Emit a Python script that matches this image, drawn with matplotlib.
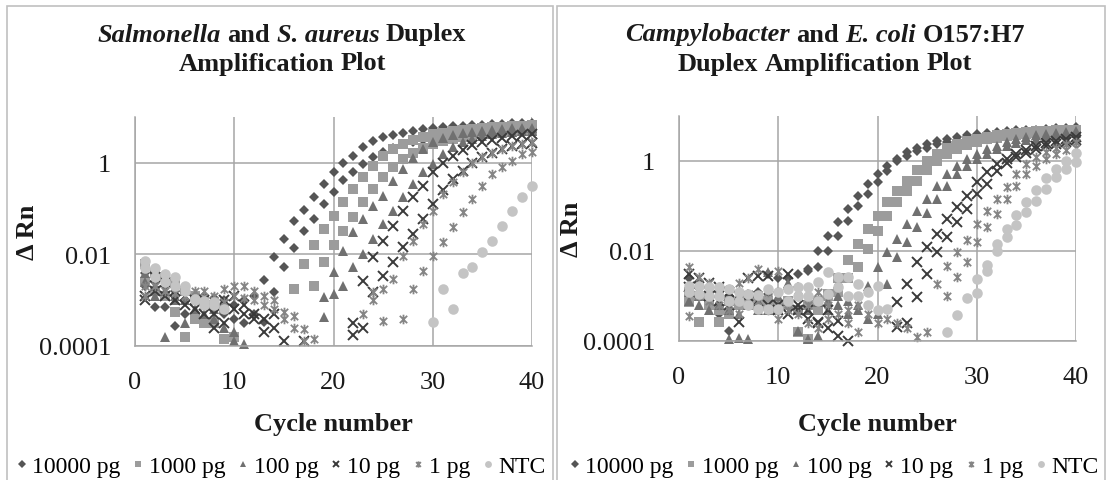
import numpy as np
import matplotlib
matplotlib.use('Agg')
import matplotlib.pyplot as plt
from matplotlib.path import Path
from matplotlib.patches import Rectangle

N = np.nan
cycles = np.arange(1, 41)
labels = ['10000 pg', '1000 pg', '100 pg', '10 pg', '1 pg', 'NTC']

# values are log10(delta Rn), two targets (a, b) per template amount
# --- Salmonella / S. aureus ---
sal_10000_a = [-2.4, -3.15, -3.15, -3.57, -3.3, -3.0, -2.9, -2.95, -3.0, -3.1,
               -3.0, -2.9, -2.56, -2.05, -1.66, -1.27, -1.03, -0.75, -0.46, -0.2,
               0.0, 0.15, 0.35, 0.48, 0.57, 0.6, 0.66, 0.7, 0.74, 0.76,
               0.78, 0.8, 0.81, 0.82, 0.83, 0.84, 0.85, 0.86, 0.86, 0.87]
sal_10000_b = [-2.7, -2.6, -2.7, -2.8, -2.85, -2.9, -3.1, -3.2, -3.3, -3.4,
               -3.5, -3.3, -3.48, -2.83, -2.27, -1.85, -1.5, -1.22, -0.9, -0.63,
               -0.38, -0.2, -0.02, 0.13, 0.24, 0.33, 0.4, 0.46, 0.5, 0.54,
               0.58, 0.6, 0.62, 0.64, 0.66, 0.67, 0.68, 0.69, 0.7, 0.7]
sal_1000_a = [-2.2, -2.4, -2.5, -2.6, -2.8, -2.9, -3.0, -3.1, -3.2, -3.8,
              N, N, N, N, N, -2.76, -2.2, -1.8, -1.44, -1.16,
              -0.85, -0.57, -0.31, -0.06, 0.15, 0.3, 0.42, 0.5, 0.57, 0.62,
              0.66, 0.7, 0.72, 0.74, 0.76, 0.78, 0.79, 0.8, 0.81, 0.82]
sal_1000_b = [-2.6, -2.8, -2.9, -3.26, -3.8, -3.4, -3.5, -3.5, -3.85, N,
              N, N, N, N, N, N, N, -2.7, -2.17, -1.8,
              -1.48, -1.18, -0.85, -0.57, -0.31, -0.09, 0.09, 0.22, 0.33, 0.42,
              0.48, 0.53, 0.57, 0.6, 0.63, 0.65, 0.67, 0.68, 0.69, 0.7]
sal_100_a = [-2.4, -2.7, -2.8, -2.9, -3.0, -3.0, -3.1, -3.2, -3.2, -3.9,
             -3.95, N, N, N, N, N, N, N, -2.93, -2.38,
             -1.92, -1.51, -1.23, -0.94, -0.72, -0.39, -0.13, 0.1, 0.3, 0.45,
             0.55, 0.6, 0.65, 0.68, 0.7, 0.72, 0.74, 0.75, 0.76, 0.77]
sal_100_b = [-2.6, -2.9, -3.8, -3.0, -3.5, -3.2, -3.3, -3.4, -3.6, -3.7,
             N, N, N, N, N, N, N, N, -3.37, -2.87,
             -2.69, -2.27, -2.0, -1.66, -1.34, -1.05, -0.75, -0.46, -0.2, -0.02,
             0.2, 0.35, 0.46, 0.53, 0.58, 0.62, 0.65, 0.67, 0.69, 0.7]
sal_10_a = [-2.9, -2.5, -2.6, -2.8, -2.9, -3.0, -3.0, -3.3, -3.0, -2.9,
            -3.1, -3.3, -3.4, -3.6, -3.9, N, N, N, N, N,
            N, -3.5, -2.58, -2.06, -1.7, -1.37, -1.05, -0.75, -0.5, -0.2,
            0.0, 0.15, 0.28, 0.38, 0.45, 0.5, 0.55, 0.58, 0.6, 0.62]
sal_10_b = [-3.0, -2.8, -2.9, -3.0, -3.1, -3.2, -3.3, -3.6, -3.5, -3.2,
            -3.3, -3.4, -3.7, -3.3, N, N, -3.9, N, N, N,
            N, -3.75, -3.6, -2.83, -2.47, -2.17, -1.84, -1.55, -1.23, -0.9,
            -0.6, -0.35, -0.17, 0.0, 0.12, 0.22, 0.3, 0.36, 0.4, 0.44]
sal_1_a = [-2.7, -2.4, -2.6, -2.6, -2.8, -2.8, -2.8, -2.9, -2.75, -2.7,
           -2.7, -2.8, -2.9, -3.0, -3.26, -3.35, -3.63, -3.85, N, N,
           N, N, -3.3, -3.0, -2.75, -2.54, -2.03, -1.7, -1.34, -1.05,
           -0.68, -0.42, -0.2, 0.0, 0.12, 0.22, 0.3, 0.36, 0.41, 0.45]
sal_1_b = [-2.9, -2.7, -2.8, -2.85, -2.9, -3.0, -3.1, -3.0, -3.05, -2.9,
           -2.95, -3.0, -3.1, -3.2, -3.4, -3.6, -3.9, N, N, N,
           N, N, N, -2.82, -3.46, N, -3.41, -2.76, -2.36, -2.03,
           -1.73, -1.4, -1.07, -0.79, -0.5, -0.24, -0.09, 0.04, 0.2, 0.24]
sal_ntc_a = [-2.14, -2.3, -2.43, -2.5, -2.7, -2.98, -3.02, -3.04, N, N,
             N, N, N, N, N, N, N, N, N, N,
             N, N, N, N, N, N, N, N, N, -3.48,
             -2.76, -3.2, -2.4, -2.28, -1.95, -1.7, -1.38, -1.05, -0.75, -0.5]
sal_ntc_b = [-2.3, -2.5, -2.6, -2.7, -2.8, -3.0, -3.1, -3.1, -3.2, N,
             N, N, N, N, N, N, N, N, N, N,
             N, N, N, N, N, N, N, N, N, N,
             N, N, N, N, N, N, N, N, N, N]

# --- Campylobacter / E. coli O157:H7 ---
cam_10000_a = [-2.6, -2.7, -2.8, -2.9, -3.0, -3.05, -2.95, -2.9, -2.5, -2.6,
               -2.6, -2.5, -2.44, -2.0, -1.67, -1.36, -1.07, -0.78, -0.51, -0.29,
               -0.1, 0.04, 0.2, 0.3, 0.38, 0.45, 0.49, 0.53, 0.57, 0.6,
               0.62, 0.64, 0.66, 0.68, 0.69, 0.7, 0.72, 0.73, 0.74, 0.75]
cam_10000_b = [-2.9, -3.0, -3.1, -3.4, -3.78, -3.2, -3.1, -3.0, -2.95, -2.9,
               -2.85, -2.8, -2.4, -2.36, -2.0, -1.67, -1.33, -1.0, -0.73, -0.47,
               -0.22, 0.0, 0.12, 0.22, 0.3, 0.37, 0.42, 0.46, 0.5, 0.53,
               0.56, 0.58, 0.6, 0.62, 0.63, 0.64, 0.65, 0.66, 0.67, 0.68]
cam_1000_a = [-3.13, -3.58, -3.0, -3.58, -3.1, -3.2, -3.0, -3.2, -3.1, -3.2,
              -3.2, -3.8, -3.96, -3.3, -3.0, -2.6, -2.2, -1.85, -1.51, -1.22,
              -0.91, -0.67, -0.44, -0.2, 0.0, 0.15, 0.28, 0.38, 0.45, 0.5,
              0.54, 0.57, 0.6, 0.62, 0.64, 0.66, 0.67, 0.68, 0.69, 0.7]
cam_1000_b = [-2.9, -3.0, -3.2, -3.3, -3.4, -3.2, -3.1, -3.15, -3.2, -3.3,
              -3.1, -3.3, -3.2, -3.1, -2.95, -2.9, -2.6, -2.36, -1.96, -1.55,
              -1.22, -0.91, -0.67, -0.44, -0.2, 0.0, 0.15, 0.27, 0.36, 0.43,
              0.48, 0.52, 0.55, 0.58, 0.6, 0.62, 0.64, 0.65, 0.66, 0.67]
cam_100_a = [-2.9, -3.0, -3.0, -3.1, -3.95, -3.93, -3.95, -3.1, -2.47, -3.0,
             -2.7, -3.78, -3.96, -3.13, -3.3, -3.0, -3.1, -3.2, -2.78, -2.36,
             -2.02, -1.73, -1.4, -1.11, -0.84, -0.56, -0.29, -0.1, 0.04, 0.16,
             0.27, 0.33, 0.42, 0.48, 0.53, 0.57, 0.6, 0.62, 0.64, 0.66]
cam_100_b = [-3.1, -3.2, -3.3, -3.2, -3.3, -3.4, -3.2, -3.3, -3.3, -3.2,
             -3.1, -3.3, -3.3, -3.89, -3.1, -3.2, -3.4, -3.3, -3.5, -3.4,
             -2.73, -2.13, -1.8, -1.47, -1.15, -0.84, -0.56, -0.29, -0.1, 0.04,
             0.16, 0.26, 0.33, 0.4, 0.46, 0.5, 0.54, 0.57, 0.6, 0.62]
cam_10_a = [-2.5, -2.6, -2.7, -2.8, -2.9, -3.0, -2.6, -2.55, -2.55, -3.2,
            -2.5, -3.2, -3.3, -3.58, -3.3, -3.89, -4.0, N, N, N,
            N, -3.13, -2.73, -2.24, -1.91, -1.62, -1.29, -1.02, -0.78, -0.47,
            -0.24, -0.07, 0.05, 0.16, 0.25, 0.33, 0.4, 0.45, 0.5, 0.54]
cam_10_b = [-2.8, -2.9, -3.0, -3.1, -3.2, -3.58, -3.0, -3.1, -3.2, -3.3,
            -3.4, -3.3, -3.5, -3.6, -3.7, -3.56, N, N, N, N,
            N, -3.69, -3.6, -3.02, -2.51, -2.02, -1.69, -1.36, -1.07, -0.73,
            -0.51, -0.22, -0.05, 0.08, 0.18, 0.26, 0.33, 0.38, 0.42, 0.46]
cam_1_a = [-2.36, -2.58, -2.7, -2.8, -2.85, -2.7, -2.6, -2.4, -2.9, -2.45,
           -3.1, -3.0, -3.2, -2.9, -3.2, -2.8, -3.3, -3.2, -3.4, -3.6,
           -3.5, -3.6, -3.7, -3.9, -3.8, -2.73, -2.33, -2.02, -1.75, -1.4,
           -1.11, -0.84, -0.58, -0.29, -0.07, 0.09, 0.2, 0.3, 0.37, 0.42]
cam_1_b = [-3.44, -3.0, -3.1, -3.2, -3.3, -3.4, -3.2, -3.1, -3.3, -3.5,
           -3.3, -3.4, -3.6, -3.7, -3.5, -3.4, -3.6, -3.8, N, N,
           N, N, N, N, N, N, -3.0, -2.58, -2.24, -1.8,
           -1.47, -1.18, -0.84, -0.56, -0.29, -0.1, 0.05, 0.15, 0.24, 0.3]
cam_ntc_a = [-2.78, -2.78, -2.8, -2.8, -2.85, -2.91, -2.95, -2.98, -2.84, -2.91,
             -2.84, -2.8, -2.8, -2.69, -2.47, -2.58, -2.58, -2.73, -2.91, -2.78,
             -3.29, N, N, N, N, N, -3.8, -3.42, -3.04, -2.62,
             -2.31, -1.84, -1.51, -1.2, -0.91, -0.64, -0.38, -0.18, 0.0, 0.18]
cam_ntc_b = [-2.9, -2.95, -3.0, -3.0, -3.1, -3.1, -3.2, -3.29, -3.29, -3.29,
             -3.1, -3.0, -3.0, -3.1, -2.95, -2.8, -3.0, -3.0, -3.2, -3.3,
             N, N, N, N, N, N, N, N, N, -2.93,
             -2.45, -2.0, -1.69, -1.42, -1.13, -0.89, -0.62, -0.36, -0.18, -0.02]

sal_series = [(sal_10000_a, sal_10000_b), (sal_1000_a, sal_1000_b), (sal_100_a, sal_100_b),
              (sal_10_a, sal_10_b), (sal_1_a, sal_1_b), (sal_ntc_a, sal_ntc_b)]
cam_series = [(cam_10000_a, cam_10000_b), (cam_1000_a, cam_1000_b), (cam_100_a, cam_100_b),
              (cam_10_a, cam_10_b), (cam_1_a, cam_1_b), (cam_ntc_a, cam_ntc_b)]

# excel style "star" marker: x with a vertical bar
star = Path([(-1, -1), (1, 1), (-1, 1), (1, -1), (0, -1.3), (0, 1.3)],
            [Path.MOVETO, Path.LINETO, Path.MOVETO, Path.LINETO, Path.MOVETO, Path.LINETO])
styles = [dict(marker='D', ms=5.6, color='#555555', mew=0),
          dict(marker='s', ms=6.8, color='#9c9c9c', mew=0),
          dict(marker='^', ms=7.5, color='#707070', mew=0),
          dict(marker='x', ms=6.8, color='#3a3a3a', mew=1.4),
          dict(marker=star, ms=6.9, color='#858585', mew=1.3),
          dict(marker='o', ms=7.6, color='#c4c4c4', mew=0)]

plt.rcParams['font.family'] = 'Liberation Serif'
W, H = 1111, 481
fig = plt.figure(figsize=(W / 100, H / 100), dpi=100)

# chart boxes
for x0, x1 in [(7, 553), (557, 1105)]:
    fig.patches.append(Rectangle((x0 / W, -0.05), (x1 - x0) / W, 1.05 - 7 / H,
                                 transform=fig.transFigure, fill=False,
                                 edgecolor='#c0c0c0', lw=1.2))


def rich_line(xc, yc, parts, size=19):
    # parts: list of (text, fontstyle); drawn bold, centred on xc (pixels)
    r = fig.canvas.get_renderer()
    sp = 0.25 * size * 100 / 72
    ts = []
    for s, st in parts:
        t = fig.text(0, 1 - yc / H, s, fontsize=size, fontweight='bold', fontstyle=st,
                     va='center', ha='left', color='#1a1a1a')
        ts.append(t)
    widths = [t.get_window_extent(renderer=r).width for t in ts]
    total = sum(widths) + sp * (len(ts) - 1)
    x = xc - total / 2
    for t, w in zip(ts, widths):
        t.set_x(x / W)
        x += w + sp


def panel(rect, series, title1, title2, tc, ylab_x, xl_y, leg_xc):
    ax = fig.add_axes(rect)
    lines = []
    for (a, b), st, lab in zip(series, styles, labels):
        yy = 10 ** np.concatenate([np.array(a, float), np.array(b, float)])
        xx = np.concatenate([cycles, cycles])
        ln, = ax.plot(xx, yy, ls='none', marker=st['marker'], ms=st['ms'],
                      color=st['color'], mec=st['color'], mew=st['mew'], label=lab,
                      clip_on=False)
        lines.append(ln)
    ax.set_yscale('log')
    ax.set_ylim(1e-4, 10)
    ax.set_xlim(0, 40)
    ax.set_yticks([1e-4, 1e-2, 1])
    ax.set_yticklabels(['0.0001', '0.01', '1'])
    ax.yaxis.set_minor_locator(matplotlib.ticker.NullLocator())
    ax.set_xticks([0, 10, 20, 30, 40])
    ax.grid(True, color='#a6a6a6', lw=1.1)
    ax.set_axisbelow(True)
    for s in ['top', 'right']:
        ax.spines[s].set_visible(False)
    for s in ['left', 'bottom']:
        ax.spines[s].set_color('#a6a6a6')
        ax.spines[s].set_linewidth(1.1)
    ax.tick_params(length=0, labelsize=19, colors='#1a1a1a')
    ax.tick_params(axis='y', pad=17)
    ax.tick_params(axis='x', pad=18)
    rich_line(tc, 35, title1)
    rich_line(tc, 64, title2)
    fig.text(ylab_x / W, rect[1] + rect[3] / 2, '\u0394 Rn', rotation=90, fontsize=19,
             fontweight='bold', ha='center', va='center', color='#1a1a1a')
    fig.text(rect[0] + rect[2] / 2, 1 - xl_y / H, 'Cycle number', fontsize=19,
             fontweight='bold', ha='center', va='center', color='#1a1a1a')
    fig.legend(lines, labels, loc='center', bbox_to_anchor=(leg_xc / W, 1 - 467 / H),
               ncol=6, frameon=False, prop={'size': 17}, handlelength=0.6,
               handletextpad=0.15, columnspacing=0.45, markerscale=0.65,
               borderaxespad=0, borderpad=0)
    return ax


panel([135 / W, 1 - 347 / H, 397 / W, 229 / H], sal_series,
      [('Salmonella', 'italic'), ('and', 'normal'), ('S. aureus', 'italic'), ('Duplex', 'normal')],
      [('Amplification', 'normal'), ('Plot', 'normal')], 282, 27, 425, 280)
panel([679 / W, 1 - 342 / H, 397 / W, 225 / H], cam_series,
      [('Campylobacter', 'italic'), ('and', 'normal'), ('E. coli', 'italic'), ('O157:H7', 'normal')],
      [('Duplex', 'normal'), ('Amplification', 'normal'), ('Plot', 'normal')], 825, 572, 425, 833)

fig.savefig('out.png', dpi=100)
